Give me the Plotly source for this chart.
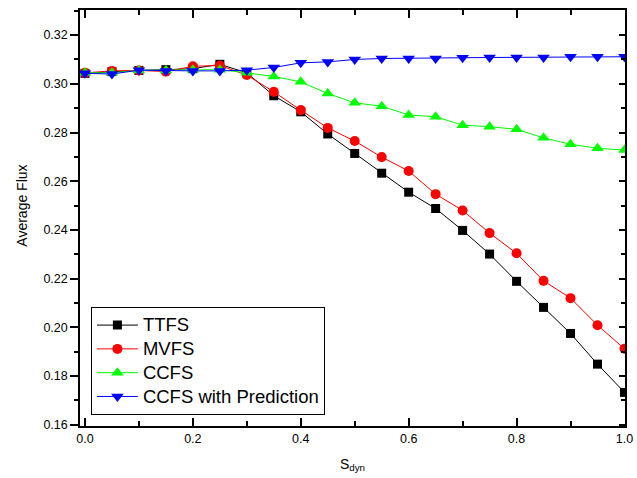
import plotly.graph_objects as go

# dynamic threshold values
s_dyn = [0.0, 0.05, 0.10, 0.15, 0.20, 0.25, 0.30, 0.35, 0.40, 0.45, 0.50,
         0.55, 0.60, 0.65, 0.70, 0.75, 0.80, 0.85, 0.90, 0.95, 1.00]

ttfs = [0.3043, 0.3050, 0.3055, 0.3058, 0.3062, 0.3080, 0.3045, 0.2951, 0.2885,
        0.2794, 0.2714, 0.2633, 0.2555, 0.2488, 0.2398, 0.2301, 0.2189, 0.2082,
        0.1975, 0.1849, 0.1733]
mvfs = [0.3045, 0.3053, 0.3055, 0.3050, 0.3072, 0.3075, 0.3036, 0.2967, 0.2892,
        0.2819, 0.2765, 0.2699, 0.2642, 0.2547, 0.2480, 0.2387, 0.2304, 0.2191,
        0.2120, 0.2009, 0.1912]
ccfs = [0.3045, 0.3045, 0.3055, 0.3055, 0.3058, 0.3058, 0.3045, 0.3030, 0.3008,
        0.2960, 0.2922, 0.2908, 0.2872, 0.2865, 0.2830, 0.2824, 0.2813, 0.2778,
        0.2752, 0.2735, 0.2728]
ccfs_pred = [0.3043, 0.3040, 0.3056, 0.3053, 0.3053, 0.3053, 0.3056, 0.3067, 0.3086,
             0.3090, 0.3100, 0.3104, 0.3104, 0.3104, 0.3107, 0.3108, 0.3108, 0.3108,
             0.3111, 0.3111, 0.3111]

series = [
    ("TTFS", ttfs, "#000000", "square", 9),
    ("MVFS", mvfs, "#ff0000", "circle", 10),
    ("CCFS", ccfs, "#00ff00", "triangle-up", 11),
    ("CCFS with Prediction", ccfs_pred, "#0000ff", "triangle-down", 11),
]

FONT = "Liberation Sans, Arial, sans-serif"
Y_RANGE = [0.1595, 0.3303]

fig = go.Figure()
for name, ys, color, symbol, size in series:
    fig.add_trace(go.Scatter(
        x=s_dyn, y=ys, mode="lines+markers",
        # larger legend text on a compact row height
        name=f'<span style="font-size:18.5px">{name}</span>',
        line=dict(color=color, width=1),
        marker=dict(symbol=symbol, size=size, color=color,
                    line=dict(width=0)),
    ))

# hidden copy on the right-hand axis so its inward ticks are drawn
fig.add_trace(go.Scatter(x=s_dyn, y=ccfs_pred, yaxis="y2", mode="lines",
                         line=dict(width=0), opacity=0, showlegend=False,
                         hoverinfo="skip"))

fig.update_layout(
    width=637, height=478,
    margin=dict(l=80, r=4, t=10, b=52),
    paper_bgcolor="white", plot_bgcolor="white",
    font=dict(family=FONT, size=12, color="black"),
    showlegend=True,
    legend=dict(
        x=0.02, y=0.026, xanchor="left", yanchor="bottom",
        bgcolor="white", bordercolor="black", borderwidth=1,
        font=dict(family=FONT, size=16, color="black"),
        tracegroupgap=0, itemsizing="trace", itemwidth=41,
    ),
    xaxis=dict(
        range=[-0.0092, 1.001],
        tickmode="linear", tick0=0, dtick=0.2, tickformat=".1f",
        ticks="inside", ticklen=8, tickwidth=1.5, tickcolor="black",
        minor=dict(dtick=0.1, tick0=0, ticks="inside", ticklen=5,
                   tickwidth=1.5, tickcolor="black"),
        showline=True, linecolor="black", linewidth=1.5, mirror="ticks",
        showgrid=False, zeroline=False, ticklabeloverflow="allow",
        tickfont=dict(family=FONT, size=12.5),
        title=dict(text="S<sub>dyn</sub>", font=dict(family=FONT, size=14),
                   standoff=14),
    ),
    yaxis=dict(
        range=Y_RANGE,
        tickmode="linear", tick0=0.16, dtick=0.02, tickformat=".2f",
        ticks="outside", ticklen=8, tickwidth=1.5, tickcolor="black",
        minor=dict(dtick=0.01, tick0=0.16, ticks="outside", ticklen=4,
                   tickwidth=1.5, tickcolor="black"),
        showline=True, linecolor="black", linewidth=1.5, mirror=True,
        showgrid=False, zeroline=False,
        tickfont=dict(family=FONT, size=12.5),
    ),
    yaxis2=dict(
        range=Y_RANGE, overlaying="y", side="right",
        tickmode="linear", tick0=0.16, dtick=0.02,
        ticks="inside", ticklen=6, tickwidth=1.5, tickcolor="black",
        minor=dict(dtick=0.01, tick0=0.16, ticks="inside", ticklen=4,
                   tickwidth=1.5, tickcolor="black"),
        showticklabels=False, showline=False, showgrid=False, zeroline=False,
    ),
    annotations=[dict(
        text="Average Flux", xref="paper", yref="paper",
        x=-0.108, y=0.53, xanchor="center", yanchor="middle",
        textangle=-90, showarrow=False,
        font=dict(family=FONT, size=14, color="black"),
    )],
)

fig.write_html("out.html")
